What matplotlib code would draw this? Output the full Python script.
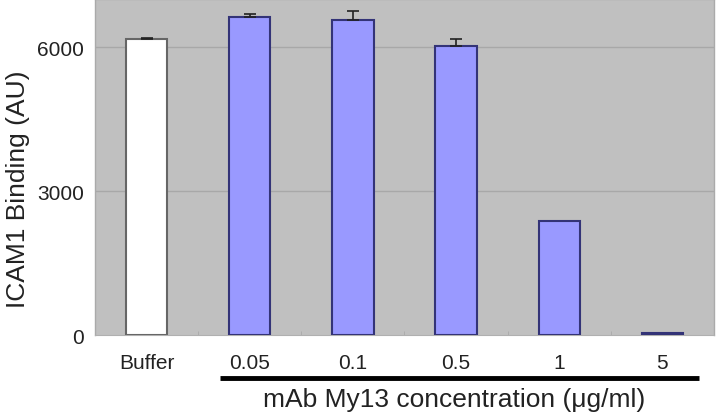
import matplotlib
matplotlib.use("Agg")
import matplotlib.pyplot as plt
import matplotlib.transforms as mtransforms
import numpy as np

categories = ["Buffer", "0.05", "0.1", "0.5", "1", "5"]
values = [6160, 6620, 6560, 6030, 2380, 50]
errors = [25, 70, 190, 140, 0, 0]
yticks = [0, 3000, 6000]

plt.rcParams['font.family'] = ['Liberation Sans', 'DejaVu Sans']

fig = plt.figure(figsize=(7.18, 4.14), dpi=100)
ax = fig.add_axes([0.1323, 0.1884, 0.862, 0.8116])
ax.set_facecolor('#c0c0c0')

x = np.arange(len(categories))
colors = ['white'] + ['#9999ff'] * (len(categories) - 1)
edges = ['#666666'] + ['#333377'] * (len(categories) - 1)
ax.bar(x, values, width=0.4, color=colors, edgecolor=edges, linewidth=1.5, zorder=3)

err_idx = [i for i, e in enumerate(errors) if e > 0]
ax.errorbar(x[err_idx], [values[i] for i in err_idx],
            yerr=[np.zeros(len(err_idx)), [errors[i] for i in err_idx]], fmt='none',
            ecolor='#222222', elinewidth=1.2, capsize=4, capthick=1.2, zorder=4)

ax.set_xlim(-0.5, len(categories) - 0.5)
ax.set_ylim(0, 7000)
ax.set_yticks(yticks)
ax.set_yticklabels([str(v) for v in yticks], fontsize=15, color='#222222')
ax.set_xticks(x)
ax.set_xticklabels(categories, fontsize=15, color='#222222')
ax.tick_params(axis='y', length=0, pad=8)
ax.tick_params(axis='x', length=0, pad=13)
ax.set_xticks(np.arange(0.5, len(categories) - 0.5, 1), minor=True)
ax.tick_params(axis='x', which='minor', length=3, color='#aaaaaa', direction='in')

for yv in yticks[1:]:
    ax.axhline(yv, color='#a8a8a8', linewidth=1.0, zorder=1)

for side in ['top', 'right', 'left']:
    ax.spines[side].set_color('#aaaaaa')
    ax.spines[side].set_linewidth(1.0)
ax.spines['bottom'].set_color('#b0b0b0')

fig.text(18 / 718, 1 - 189 / 414, "ICAM1 Binding (AU)", rotation=90,
         ha='center', va='center', fontsize=19, color='#222222')

trans = mtransforms.blended_transform_factory(ax.transData, ax.transAxes)
ax.plot([0.71, 5.36], [-0.128, -0.128], transform=trans, color='black',
        linewidth=3.5, clip_on=False, solid_capstyle='butt')
ax.text(2.98, -0.19, "mAb My13 concentration (\u03bcg/ml)", transform=trans,
        ha='center', va='center', fontsize=19, color='#222222')

fig.savefig("out.png", dpi=100)
